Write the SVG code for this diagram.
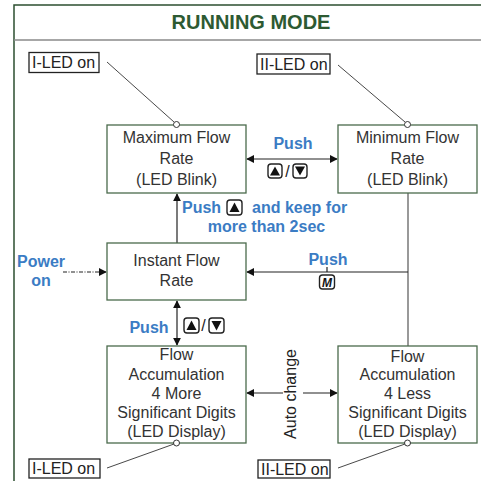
<svg xmlns="http://www.w3.org/2000/svg" width="481" height="481" viewBox="0 0 481 481">
<defs>
<style>
.node{fill:#fff;stroke:#4a6a4c;stroke-width:1.3}
.nt{font-family:"Liberation Sans",Arial,sans-serif;font-size:16px;fill:#333;text-anchor:middle}
.lbl{fill:#fff;stroke:#222;stroke-width:1.3}
.lt{font-family:"Liberation Sans",Arial,sans-serif;font-size:16px;fill:#222}
.blue{font-family:"Liberation Sans",Arial,sans-serif;font-size:16px;font-weight:bold;fill:#3b7cc4}
.line{stroke:#222;stroke-width:1.2;fill:none}
.lead{stroke:#333;stroke-width:0.9;fill:none}
.dot{fill:#fff;stroke:#333;stroke-width:1}
.key{fill:#fff;stroke:#222;stroke-width:1.4}
.tri{fill:#111}
</style>
<marker id="ah" viewBox="0 0 10 10" refX="9" refY="5" markerWidth="8" markerHeight="8" markerUnits="userSpaceOnUse" orient="auto-start-reverse">
<path d="M0,0 L10,5 L0,10 Z" fill="#111"/>
</marker>
</defs>
<rect width="481" height="481" fill="#fff"/>
<g id="frame">
<path d="M14,481 V5 H481" fill="none" stroke="#2d4f30" stroke-width="1.5"/>
<line x1="14" y1="40" x2="481" y2="40" stroke="#8a8a8a" stroke-width="1.6"/>
<text x="251" y="29" text-anchor="middle" font-family="'Liberation Sans',Arial,sans-serif" font-size="20" font-weight="bold" fill="#2d5a32">RUNNING MODE</text>
</g>
<g id="connectors">
<line class="line" x1="247" y1="159" x2="337" y2="159" marker-start="url(#ah)" marker-end="url(#ah)"/>
<line class="line" x1="177" y1="243" x2="177" y2="194" marker-end="url(#ah)"/>
<line x1="408" y1="193" x2="408" y2="346" stroke="#555" stroke-width="1.2"/>
<line class="line" x1="408" y1="272" x2="247" y2="272" marker-end="url(#ah)"/>
<line class="line" x1="327" y1="267" x2="327" y2="272"/>
<line class="line" x1="63" y1="272" x2="106" y2="272" stroke-dasharray="4 1.5 1 1.5" marker-end="url(#ah)"/>
<line class="line" x1="177" y1="301" x2="177" y2="345" marker-start="url(#ah)" marker-end="url(#ah)"/>
<line class="line" x1="283" y1="393" x2="247" y2="393" marker-end="url(#ah)"/>
<line class="line" x1="303" y1="393" x2="337" y2="393" marker-end="url(#ah)"/>
<line class="lead" x1="107" y1="62" x2="174" y2="122"/>
<line class="lead" x1="338" y1="65" x2="405" y2="122"/>
<line class="lead" x1="107" y1="468" x2="174" y2="444"/>
<line class="lead" x1="338" y1="468" x2="405" y2="444"/>
</g>
<g id="max-flow">
<rect class="node" x="107" y="125" width="139" height="68"/>
<text class="nt" x="176.5" y="143">Maximum Flow</text>
<text class="nt" x="176.5" y="164">Rate</text>
<text class="nt" x="176.5" y="185">(LED Blink)</text>
<circle class="dot" cx="176.5" cy="124.5" r="3"/>
</g>
<g id="min-flow">
<rect class="node" x="338" y="125" width="139" height="68"/>
<text class="nt" x="407.5" y="143">Minimum Flow</text>
<text class="nt" x="407.5" y="164">Rate</text>
<text class="nt" x="407.5" y="185">(LED Blink)</text>
<circle class="dot" cx="407.5" cy="124.5" r="3"/>
</g>
<g id="instant-flow">
<rect class="node" x="107" y="243" width="139" height="57"/>
<text class="nt" x="176.5" y="266">Instant Flow</text>
<text class="nt" x="176.5" y="286">Rate</text>
</g>
<g id="accum-more">
<rect class="node" x="107" y="346" width="139" height="97"/>
<text class="nt" x="176.5" y="360">Flow</text>
<text class="nt" x="176.5" y="379.5">Accumulation</text>
<text class="nt" x="176.5" y="399">4 More</text>
<text class="nt" x="176.5" y="418">Significant Digits</text>
<text class="nt" x="176.5" y="437">(LED Display)</text>
<circle class="dot" cx="176.5" cy="443" r="3"/>
</g>
<g id="accum-less">
<rect class="node" x="338" y="346" width="139" height="97"/>
<text class="nt" x="407.5" y="362">Flow</text>
<text class="nt" x="407.5" y="380">Accumulation</text>
<text class="nt" x="407.5" y="399">4 Less</text>
<text class="nt" x="407.5" y="418">Significant Digits</text>
<text class="nt" x="407.5" y="437">(LED Display)</text>
<circle class="dot" cx="407.5" cy="443" r="3"/>
</g>
<g id="led-labels">
<rect class="lbl" x="29" y="52.5" width="70" height="20"/>
<text class="lt" x="32" y="68">I-LED on</text>
<rect class="lbl" x="257" y="54" width="73" height="20"/>
<text class="lt" x="260" y="69.5">II-LED on</text>
<rect class="lbl" x="29" y="459" width="71" height="19"/>
<text class="lt" x="32" y="474">I-LED on</text>
<rect class="lbl" x="258" y="460" width="72" height="18"/>
<text class="lt" x="261" y="474.5">II-LED on</text>
</g>
<g id="labels">
<text class="blue" x="293" y="149" text-anchor="middle">Push</text>
<rect class="key" x="268" y="164" width="14" height="14" rx="3"/>
<polygon class="tri" points="275,166.5 280,175.5 270,175.5"/>
<text class="lt" x="287.5" y="177" text-anchor="middle">/</text>
<rect class="key" x="293" y="164" width="14" height="14" rx="3"/>
<polygon class="tri" points="295,166.5 305,166.5 300,175.5"/>

<text class="blue" x="182" y="213">Push</text>
<rect class="key" x="227" y="200" width="15" height="15" rx="3"/>
<polygon class="tri" points="234.5,202.5 239.5,212 229.5,212"/>
<text class="blue" x="252" y="213">and keep for</text>
<text class="blue" x="266.5" y="232" text-anchor="middle">more than 2sec</text>

<text class="blue" x="328" y="265" text-anchor="middle">Push</text>
<rect class="key" x="319.5" y="275" width="15" height="14" rx="3"/>
<text x="327" y="286.5" text-anchor="middle" font-family="'Liberation Sans',Arial,sans-serif" font-size="12" font-weight="bold" font-style="italic" fill="#111">M</text>

<text class="blue" x="41" y="267" text-anchor="middle">Power</text>
<text class="blue" x="41" y="286" text-anchor="middle">on</text>

<text class="blue" x="149" y="333" text-anchor="middle">Push</text>
<rect class="key" x="184" y="318" width="15" height="15" rx="3"/>
<polygon class="tri" points="191.5,320.5 196.5,330 186.5,330"/>
<text class="lt" x="203.5" y="331" text-anchor="middle">/</text>
<rect class="key" x="209" y="318" width="15" height="15" rx="3"/>
<polygon class="tri" points="211.5,321 221.5,321 216.5,330.5"/>

<text class="lt" transform="translate(296,394) rotate(-90)" text-anchor="middle" fill="#333">Auto change</text>
</g>
</svg>
